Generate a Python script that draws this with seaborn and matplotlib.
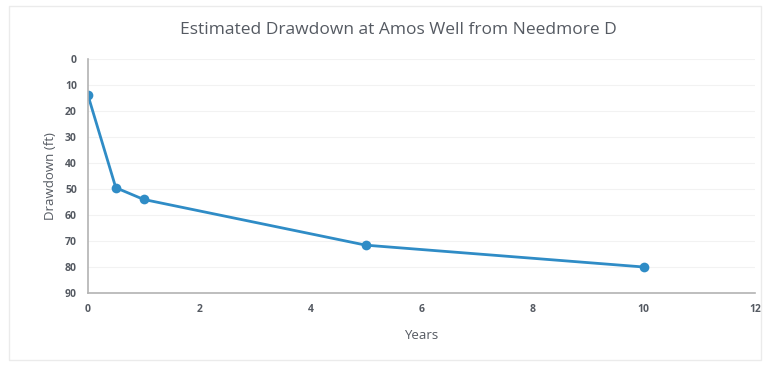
import matplotlib
matplotlib.use("Agg")
import matplotlib.pyplot as plt
import seaborn as sns
import pandas as pd
from matplotlib.patches import Rectangle

years = [0, 0.5, 1, 5, 10]
drawdown_ft = [14, 49.5, 54, 71.6, 80]
x_ticks = [0, 2, 4, 6, 8, 10, 12]
y_ticks = [0, 10, 20, 30, 40, 50, 60, 70, 80, 90]

df = pd.DataFrame({"Years": years, "Drawdown (ft)": drawdown_ft})

sns.set_theme(style="white")
plt.rcParams["font.family"] = ["Open Sans", "DejaVu Sans"]

text_col = "#555a62"
line_col = "#2f8cc6"

fig = plt.figure(figsize=(7.7, 3.67), dpi=100)
fig.patch.set_facecolor("white")
# chart-area border
fig.patches.append(Rectangle((0.012, 0.02), 0.976, 0.965, transform=fig.transFigure,
                             fill=False, edgecolor="#ebebeb", linewidth=1))

ax = fig.add_axes([0.1143, 0.2016, 0.8662, 0.6376])
sns.lineplot(data=df, x="Years", y="Drawdown (ft)", ax=ax, color=line_col,
             linewidth=2, marker="o", markersize=7, markeredgewidth=0)

ax.set_xlim(0, 12)
ax.set_ylim(90, 0)
ax.set_xticks(x_ticks)
ax.set_yticks(y_ticks)
ax.tick_params(axis="both", labelsize=7.5, colors=text_col, length=0, pad=8)
for lbl in ax.get_xticklabels() + ax.get_yticklabels():
    lbl.set_fontweight("bold")
ax.yaxis.grid(True, color="#f2f2f2", linewidth=0.8)
ax.xaxis.grid(False)
for side in ("top", "right"):
    ax.spines[side].set_visible(False)
for side in ("left", "bottom"):
    ax.spines[side].set_color("#b3b3b3")
    ax.spines[side].set_linewidth(1.2)

ax.set_xlabel("Years", fontsize=9.5, color=text_col, labelpad=10)
ax.set_ylabel("Drawdown (ft)", fontsize=9.5, color=text_col, labelpad=6)
fig.text(0.518, 0.918, "Estimated Drawdown at Amos Well from Needmore D",
         ha="center", va="center", fontsize=12.5, color=text_col)

fig.savefig("out.png", dpi=100, facecolor="white")
